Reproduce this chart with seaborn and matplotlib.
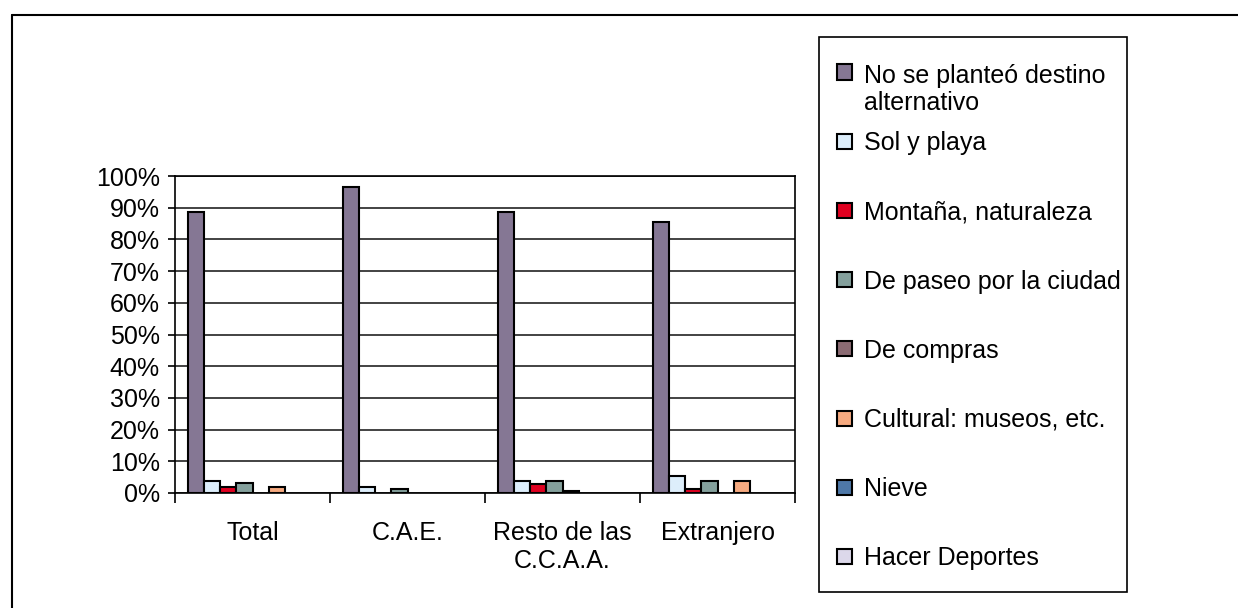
import pandas as pd
import numpy as np
import matplotlib.pyplot as plt
import seaborn as sns
from matplotlib.patches import Rectangle
from matplotlib.lines import Line2D
from matplotlib.ticker import FuncFormatter, FixedLocator

sns.set_style('white')
plt.rcParams['font.family'] = ['Liberation Sans', 'DejaVu Sans']
plt.rcParams['text.color'] = 'black'
plt.rcParams['xtick.color'] = 'black'
plt.rcParams['ytick.color'] = 'black'

destinos = ['Total', 'C.A.E.', 'Resto de las\nC.C.A.A.', 'Extranjero']
series = ['No se planteó destino\nalternativo', 'Sol y playa', 'Montaña, naturaleza',
          'De paseo por la ciudad', 'De compras', 'Cultural: museos, etc.',
          'Nieve', 'Hacer Deportes']
colores = ['#857794', '#DDEEFB', '#E00020', '#84A09C', '#8B6B73', '#F6AA80',
           '#4E78A8', '#DCD8EA']

no_se = [88.7, 96.6, 88.5, 85.4]
sol_playa = [3.9, 2.0, 3.8, 5.4]
montana = [2.0, 0.0, 2.7, 1.2]
paseo = [3.3, 1.3, 3.8, 3.8]
compras = [0.0, 0.0, 0.6, 0.0]
cultural = [1.9, 0.0, 0.0, 3.8]
nieve = [0.0, 0.0, 0.0, 0.0]
deportes = [0.0, 0.0, 0.0, 0.0]

valores = [no_se, sol_playa, montana, paseo, compras, cultural, nieve, deportes]
rows = []
for s, vals in zip(series, valores):
    for d, v in zip(destinos, vals):
        rows.append({'Destino': d, 'Serie': s, 'Pct': v})
df = pd.DataFrame(rows)

W, H = 1238, 608
fig = plt.figure(figsize=(W / 100, H / 100), dpi=100)
ax = fig.add_axes([175 / W, 1 - 493 / H, 620 / W, 317 / H])

sns.barplot(data=df, x='Destino', y='Pct', hue='Serie', order=destinos,
            hue_order=series, palette=colores, width=0.83, edgecolor='black',
            linewidth=1.5, saturation=1, legend=False, ax=ax)

for p in ax.patches:
    if p.get_height() == 0:
        p.set_visible(False)

ax.set_ylim(0, 100)
ax.set_xlim(-0.5, 3.5)
ax.set_yticks(np.arange(0, 101, 10))
ax.yaxis.set_major_formatter(FuncFormatter(lambda v, _: f'{v:.0f}%'))
ax.set_axisbelow(True)
ax.yaxis.grid(True, color='#222222', linewidth=1.2)
ax.set_xlabel('')
ax.set_ylabel('')
for sp in ax.spines.values():
    sp.set_color('black')
    sp.set_linewidth(1.2)

ax.tick_params(axis='y', left=True, length=5, width=1.2, color='black',
               labelsize=18, pad=6)
ax.tick_params(axis='x', which='major', length=0, labelsize=18, pad=20)
ax.xaxis.set_minor_locator(FixedLocator(np.arange(-0.5, 4, 1)))
ax.tick_params(axis='x', which='minor', bottom=True, length=7, width=1.2,
               color='black')
for lab in ax.get_xticklabels():
    lab.set_horizontalalignment('center')
    lab.set_multialignment('center')

# leyenda
line_px = 18 * 100 / 72 * 1.15
fig.add_artist(Rectangle((819 / W, 1 - 592 / H), 308 / W, 555 / H,
                         transform=fig.transFigure, fill=False,
                         edgecolor='black', linewidth=1.2))
for i, (s, c) in enumerate(zip(series, colores)):
    yc = 72 + 69.2 * i
    fig.add_artist(Rectangle((837 / W, 1 - (yc + 7.5) / H), 15 / W, 15 / H,
                             transform=fig.transFigure, facecolor=c,
                             edgecolor='black', linewidth=1.5))
    nlin = s.count('\n')
    fig.text(864 / W, 1 - (yc + 9 + nlin * line_px) / H, s, fontsize=18,
             va='baseline', ha='left', linespacing=1.15)

# marco exterior
fig.add_artist(Line2D([12 / W, 1], [1 - 15 / H, 1 - 15 / H],
                      transform=fig.transFigure, color='black', linewidth=1.5))
fig.add_artist(Line2D([12 / W, 12 / W], [0, 1 - 15 / H],
                      transform=fig.transFigure, color='black', linewidth=1.5))

fig.savefig('out.png', dpi=100)
